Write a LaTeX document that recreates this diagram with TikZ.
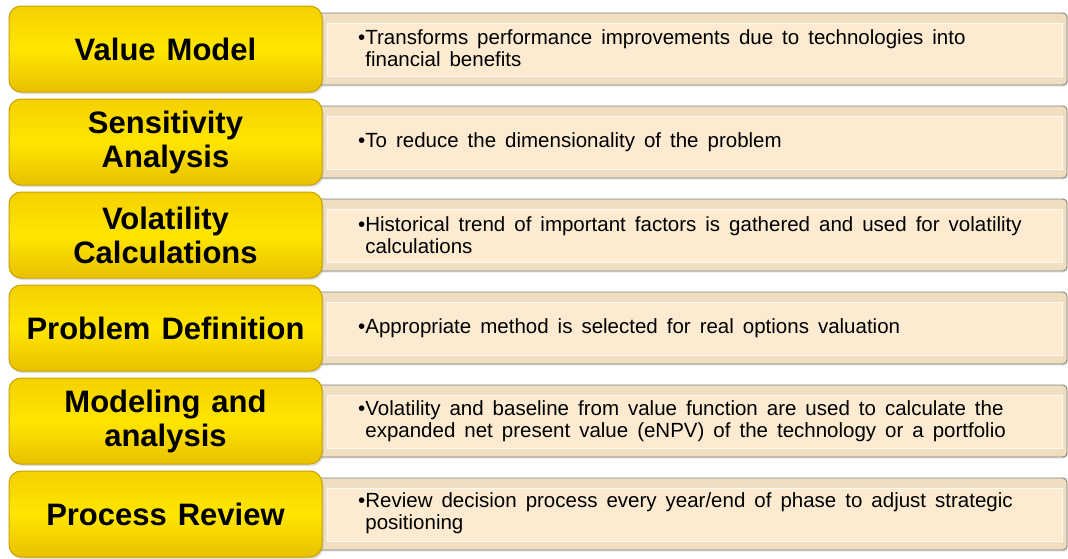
\documentclass[tikz,border=0pt]{standalone}
\usepackage{fontspec}
\setmainfont{Liberation Sans}
\usetikzlibrary{shadows}
\definecolor{ytop}{HTML}{F4D000}
\definecolor{ymid}{HTML}{FFE600}
\definecolor{ybot}{HTML}{E8C000}
\definecolor{yedge}{HTML}{C9A200}
\definecolor{bevel}{HTML}{F0DEC0}
\definecolor{panel}{HTML}{FCEBD1}
\definecolor{bord}{HTML}{808080}
\newcommand{\leftfont}{\bfseries\fontsize{31}{34}\selectfont\spaceskip=11pt plus 1pt minus 1pt\relax}
\newcommand{\rightfont}{\fontsize{20.5}{22}\selectfont\spaceskip=9pt plus 1pt minus 1pt\relax}
\tikzset{
  ybox/.style={rounded corners=12pt, minimum width=313pt, minimum height=86pt,
    top color=ytop, bottom color=ybot, middle color=ymid, draw=yedge, line width=1pt,
    drop shadow={shadow xshift=1.5pt, shadow yshift=-2pt, opacity=0.25},
    align=center, inner sep=0pt, font=\leftfont},
  obox/.style={rounded corners=4pt, minimum width=751pt, minimum height=72pt,
    fill=bevel, draw=bord, line width=0.9pt, inner sep=0pt,
    drop shadow={shadow xshift=1pt, shadow yshift=-1.5pt, opacity=0.2}},
  pbox/.style={minimum width=735pt, minimum height=53pt, fill=panel, draw=white!85!bevel,
    line width=0.5pt, inner sep=0pt},
  rtext/.style={anchor=west, align=left, inner sep=0pt, font=\rightfont},
}
\newcommand{\hang}{\phantom{•}}
\begin{document}
\begin{tikzpicture}[x=1pt,y=-1pt]
\useasboundingbox (0,0) rectangle (1068,558);
\foreach \i/\c in {1/49,2/142,3/235,4/328,5/421,6/514}{
  \node[obox] (o\i) at (691.5,\c) {};
  \node[pbox] (p\i) at (694.5,\c+0.5) {};
}
\node[ybox] (l1) at (165.5,49) {Value Model};
\node[ybox] (l2) at (165.5,142) {Sensitivity\\Analysis};
\node[ybox] (l3) at (165.5,235) {Volatility\\Calculations};
\node[ybox] (l4) at (165.5,328) {Problem Definition};
\node[ybox] (l5) at (165.5,421) {Modeling and\\analysis};
\node[ybox] (l6) at (165.5,514) {Process Review};
\node[rtext] (t1) at (358,48) {•Transforms performance improvements due to technologies into\\\hang financial benefits};
\node[rtext] (t2) at (358,142) {•To reduce the dimensionality of the problem};
\node[rtext] (t3) at (358,235) {•Historical trend of important factors is gathered and used for volatility\\\hang calculations};
\node[rtext] (t4) at (358,328) {•Appropriate method is selected for real options valuation};
\node[rtext] (t5) at (358,421) {•Volatility and baseline from value function are used to calculate the\\\hang expanded net present value (eNPV) of the technology or a portfolio};
\node[rtext] (t6) at (358,513) {•Review decision process every year/end of phase to adjust strategic\\\hang positioning};
\end{tikzpicture}
\end{document}
